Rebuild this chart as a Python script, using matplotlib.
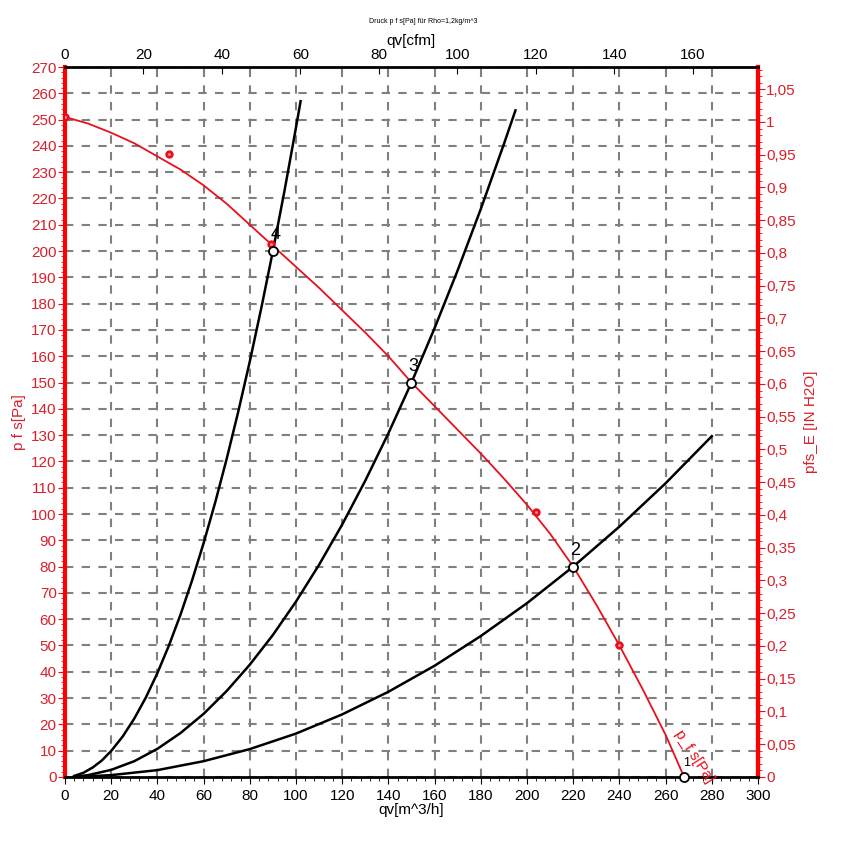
import matplotlib.pyplot as plt
from matplotlib.ticker import MultipleLocator, FuncFormatter
import numpy as np

plt.rcParams['font.family'] = ['Liberation Sans', 'DejaVu Sans']

# fan curve p_fs [Pa] over qv [m^3/h]
fan_q = [0, 10, 20, 30, 40, 50, 60, 70, 80, 90, 100, 110, 120, 130, 140, 150,
         160, 170, 180, 190, 200, 210, 220, 230, 240, 250, 260, 268]
fan_p = [251, 248.5, 245, 241, 236, 231, 225, 218, 210, 202, 194, 186, 177.5,
         169, 160, 150, 141, 132, 123, 113.5, 103.5, 92.5, 80, 65.5, 50, 33.5, 16, 0]

# measured points on the fan curve
meas_q = [0, 45, 89, 204, 240]
meas_p = [251, 237, 202.5, 100.8, 50]

# system curves
sys4_q = [4, 8, 12, 16, 20, 25, 30, 35, 40, 45, 50, 55, 60, 65, 70, 75, 80, 85,
          90, 95, 100, 102]
sys4_p = [0.4, 1.6, 3.6, 6.3, 9.9, 15.4, 22.2, 30.2, 39.5, 50, 61.7, 74.7, 88.9,
          104.3, 121, 138.9, 158, 178.4, 200, 222.8, 247, 257]
sys3_q = [4, 10, 20, 30, 40, 50, 60, 70, 80, 90, 100, 110, 120, 130, 140, 150,
          160, 170, 180, 190, 195]
sys3_p = [0.1, 0.7, 2.7, 6, 10.7, 16.7, 24, 32.7, 42.7, 54, 66.7, 80.7, 96,
          112.7, 130.7, 150, 170.7, 192.7, 216, 240.7, 253.5]
sys2_q = [4, 20, 40, 60, 80, 100, 120, 140, 160, 180, 200, 220, 240, 260, 280]
sys2_p = [0, 0.7, 2.6, 6, 10.6, 16.5, 23.8, 32.4, 42.3, 53.6, 66.1, 80, 95.2,
          111.7, 129.6]

# operating points
op_q = [268, 220, 150, 90]
op_p = [0, 80, 150, 200]
op_lab = ['1', '2', '3', '4']

RED = '#e8101c'
TXTRED = '#d8202c'

fig = plt.figure(figsize=(8.46, 8.46), dpi=100)
ax = fig.add_axes([0.0768, 0.0816, 0.8192, 0.8392])
ax.set_xlim(0, 300)
ax.set_ylim(0, 270)

ax.grid(True, color='#808080', linestyle=(0, (4, 4)), linewidth=1.5)
ax.set_axisbelow(True)

for q, p in [(sys4_q, sys4_p), (sys3_q, sys3_p), (sys2_q, sys2_p)]:
    ax.plot(q, p, color='black', lw=1.8, zorder=3)

ax.plot(fan_q, fan_p, color=RED, lw=1.3, zorder=4)
ax.plot(meas_q, meas_p, 'o', color=RED, ms=5, mec=RED, zorder=5)
ax.plot(meas_q, meas_p, 'o', color='#ff9090', ms=2, mec='none', zorder=6)

ax.plot(op_q, op_p, 'o', mfc='white', mec='black', ms=6.5, mew=1.3, zorder=7,
        clip_on=False)
for q, p, t in zip(op_q, op_p, op_lab):
    fs = 9 if t == '1' else 13
    ax.text(q + 1, p + 3, t, fontsize=fs, ha='center', va='bottom', zorder=8)

ax.text(272.5, 8, 'p_f s[Pa]', color=RED, fontsize=11, rotation=-57,
        ha='center', va='center', zorder=8)

# axes styling
for s in ['left', 'right']:
    ax.spines[s].set_color('red')
    ax.spines[s].set_linewidth(3)
for s in ['top', 'bottom']:
    ax.spines[s].set_color('black')
    ax.spines[s].set_linewidth(2)

ax.xaxis.set_major_locator(MultipleLocator(20))
ax.xaxis.set_minor_locator(MultipleLocator(4))
ax.yaxis.set_major_locator(MultipleLocator(10))
ax.yaxis.set_minor_locator(MultipleLocator(2))
ax.tick_params(axis='x', which='both', direction='out', colors='black', labelsize=11)
ax.tick_params(axis='x', which='major', length=5)
ax.tick_params(axis='x', which='minor', length=3)
ax.tick_params(axis='y', which='both', direction='out', color=RED, labelcolor=TXTRED,
               labelsize=11, pad=1)
ax.tick_params(axis='y', which='major', length=5)
ax.tick_params(axis='y', which='minor', length=3)
ax.set_xlabel('qv[m^3/h]', fontsize=11, labelpad=0)
ax.set_ylabel('p f s[Pa]', color=TXTRED, fontsize=11, labelpad=4)

# top: cfm
cfm = 0.588578
top = ax.secondary_xaxis('top', functions=(lambda x: x * cfm, lambda x: x / cfm))
top.set_xticks(np.arange(0, 161, 20))
top.tick_params(axis='x', direction='in', length=5, colors='black', labelsize=11)
top.set_xlabel('qv[cfm]', fontsize=11, labelpad=2)

# right: inch water
inh2o = 249.089
right = ax.secondary_yaxis('right', functions=(lambda y: y / inh2o, lambda y: y * inh2o))
right.set_yticks(np.arange(0, 1.051, 0.05))
right.yaxis.set_minor_locator(MultipleLocator(0.01))
right.yaxis.set_major_formatter(FuncFormatter(
    lambda v, pos: ('%.2f' % v).rstrip('0').rstrip('.').replace('.', ',')))
right.tick_params(axis='y', which='both', direction='out', color=RED,
                  labelcolor=TXTRED, labelsize=11, pad=1)
right.tick_params(axis='y', which='major', length=5)
right.tick_params(axis='y', which='minor', length=3)
right.spines['right'].set_color('red')
right.spines['right'].set_linewidth(3)
right.set_ylabel('pfs_E [IN H2O]', color=TXTRED, fontsize=11, labelpad=6)

fig.text(0.5, 0.974, 'Druck p f s[Pa] für Rho=1,2kg/m^3', fontsize=5,
         ha='center', va='center')

fig.savefig('out.png', dpi=100)
